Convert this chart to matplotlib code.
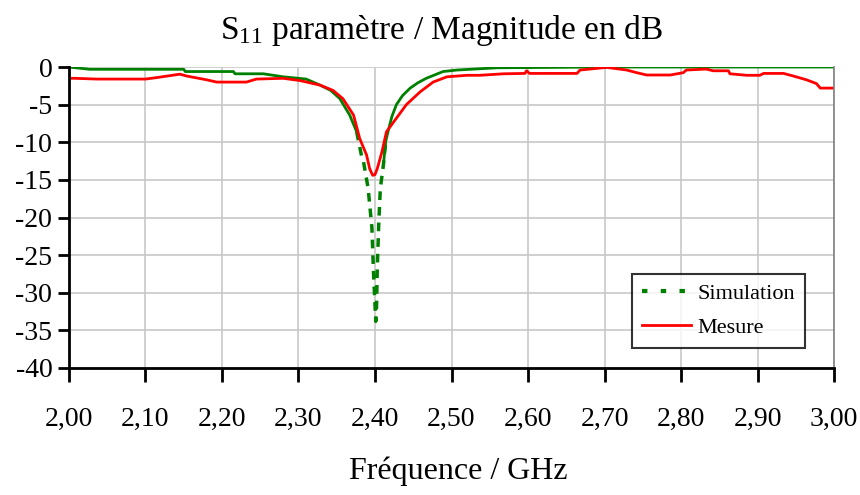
import numpy as np
import matplotlib
matplotlib.use("Agg")
import matplotlib.pyplot as plt

plt.rcParams['font.family'] = ['Liberation Serif', 'DejaVu Serif']
plt.rcParams['mathtext.fontset'] = 'custom'
plt.rcParams['mathtext.rm'] = 'Liberation Serif'
plt.rcParams['mathtext.it'] = 'Liberation Serif:italic'

# Simulation (green)
sim_freq = [2.000, 2.027, 2.150, 2.152, 2.215, 2.217, 2.254, 2.280, 2.310, 2.328,
            2.342, 2.354, 2.367, 2.376, 2.383, 2.385, 2.391, 2.396, 2.398, 2.401,
            2.402, 2.403, 2.405, 2.407, 2.411, 2.414, 2.417, 2.422, 2.428, 2.436,
            2.446, 2.456, 2.467, 2.489, 2.507, 2.560, 2.700, 3.000]
sim_db = [0.0, -0.3, -0.3, -0.6, -0.6, -0.9, -0.9, -1.3, -1.6, -2.4,
          -3.1, -4.2, -6.4, -8.6, -12.1, -12.6, -16.1, -21.4, -27.2, -33.8,
          -32.0, -26.7, -20.6, -16.1, -13.0, -9.9, -8.6, -6.6, -5.0, -3.8,
          -2.8, -2.1, -1.5, -0.6, -0.4, -0.1, 0.0, 0.0]

# Mesure (red)
mes_freq = [2.000, 2.008, 2.036, 2.100, 2.115, 2.145, 2.154, 2.180, 2.193, 2.232,
            2.245, 2.280, 2.302, 2.328, 2.345, 2.358, 2.372, 2.380, 2.389, 2.393, 2.397,
            2.400, 2.403, 2.409, 2.415, 2.428, 2.441, 2.459, 2.476, 2.494, 2.520, 2.537,
            2.568, 2.596, 2.598, 2.602, 2.664, 2.668, 2.681, 2.703, 2.729, 2.742,
            2.755, 2.786, 2.803, 2.807, 2.833, 2.842, 2.862, 2.864, 2.886, 2.903,
            2.908, 2.934, 2.947, 2.964, 2.977, 2.982, 3.000]
mes_db = [-1.5, -1.5, -1.6, -1.6, -1.4, -0.95, -1.2, -1.7, -2.0, -2.0,
          -1.6, -1.5, -1.8, -2.4, -3.1, -4.2, -6.4, -9.5, -11.7, -13.5, -14.4,
          -14.3, -13.5, -11.3, -8.6, -6.8, -5.0, -3.3, -2.0, -1.3, -1.1, -1.1,
          -0.9, -0.85, -0.5, -0.85, -0.85, -0.4, -0.27, -0.05, -0.4, -0.75,
          -1.06, -1.06, -0.75, -0.4, -0.27, -0.5, -0.5, -0.9, -1.1, -1.1,
          -0.85, -0.85, -1.2, -1.7, -2.2, -2.8, -2.8]

x_ticks = [2.0, 2.1, 2.2, 2.3, 2.4, 2.5, 2.6, 2.7, 2.8, 2.9, 3.0]
x_labels = ["2,00", "2,10", "2,20", "2,30", "2,40", "2,50", "2,60", "2,70", "2,80", "2,90", "3,00"]
y_ticks = [0, -5, -10, -15, -20, -25, -30, -35, -40]
y_labels = ["0", "-5", "-10", "-15", "-20", "-25", "-30", "-35", "-40"]

fig = plt.figure(figsize=(8.6, 4.95), dpi=100)
ax = fig.add_axes([0.0802, 0.2566, 0.8896, 0.608])

sf = np.array(sim_freq)
sd = np.array(sim_db)
# deep part of the dip shows the dash pattern, the rest looks solid
deep = sd < -12.0
lo = np.argmax(deep) - 1
hi = len(sd) - np.argmax(deep[::-1])
ax.plot(sf[:lo + 1], sd[:lo + 1], color='#008000', lw=2, solid_capstyle='butt')
ax.plot(sf[hi - 1:], sd[hi - 1:], color='#008000', lw=2, solid_capstyle='butt')
ax.plot(sf[lo:hi + 1], sd[lo:hi + 1], color='#008000', lw=2.5, linestyle=(0, (2.5, 2)))
ax.plot(mes_freq, mes_db, color='#ff0000', lw=2)

# legend handles
ax.plot([], [], color='#008000', lw=3, linestyle=(0, (1.3, 3.2)), label='Simulation')
ax.plot([], [], color='#ff0000', lw=2, label='Mesure')
handles, labels = ax.get_legend_handles_labels()
leg = ax.legend(handles, labels, loc='lower right', bbox_to_anchor=(0.962, 0.066),
                fontsize=16, frameon=True, fancybox=False, edgecolor='black',
                handlelength=2.2, borderpad=0.45, labelspacing=0.6, handletextpad=0.3,
                borderaxespad=0)
leg.get_frame().set_linewidth(1.5)

ax.set_xlim(2.0, 3.0)
ax.set_ylim(-40, 0)
ax.set_xticks(x_ticks)
ax.set_xticklabels(x_labels)
ax.set_yticks(y_ticks)
ax.set_yticklabels(y_labels)
ax.grid(True, color='#c8c8c8', lw=1.2)
ax.set_axisbelow(True)

ax.spines['top'].set_visible(False)
ax.spines['right'].set_color('#808080')
ax.spines['right'].set_linewidth(1.2)
ax.spines['left'].set_linewidth(2)
ax.spines['bottom'].set_linewidth(2)
ax.tick_params(axis='x', direction='out', length=10, width=2, pad=18, labelsize=20)
ax.tick_params(axis='y', direction='out', length=8, width=2, pad=4, labelsize=20)

ax.set_title("S$_{11}$ paramètre / Magnitude en dB", fontsize=24, pad=20, x=0.487)
ax.set_xlabel("Fréquence / GHz", fontsize=23, labelpad=20)
ax.xaxis.set_label_coords(0.509, -0.295)

fig.savefig("out.png", dpi=100)
